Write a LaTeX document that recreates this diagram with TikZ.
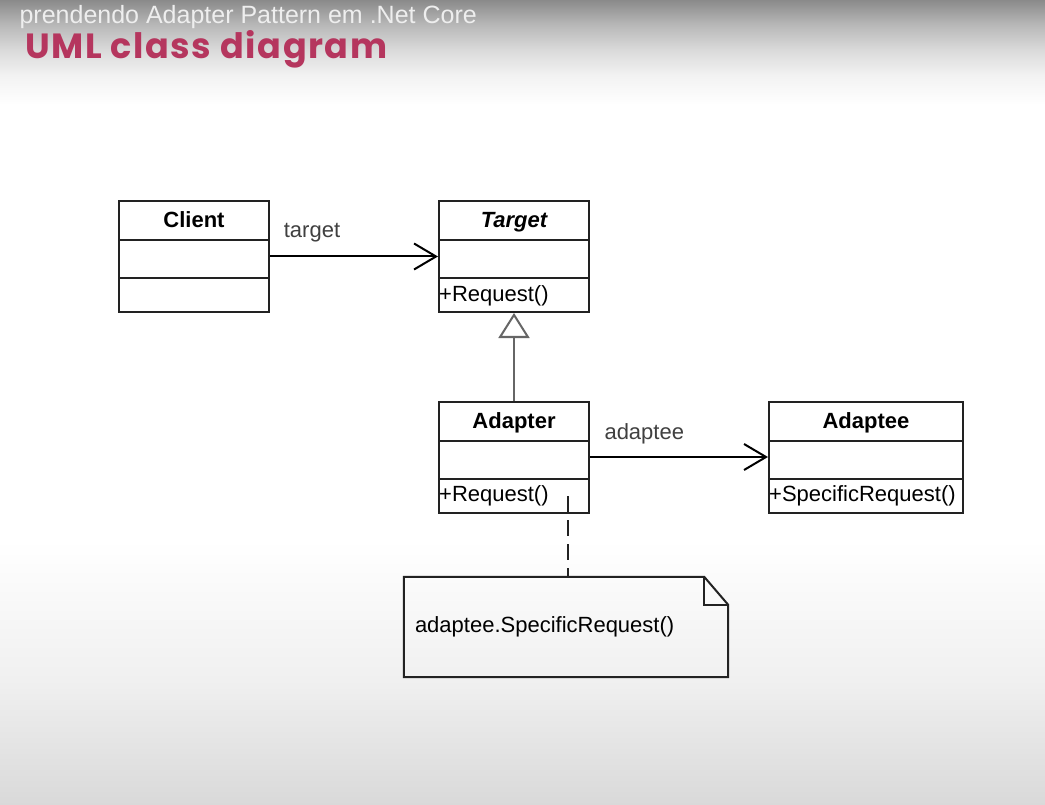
\documentclass[tikz,border=0pt]{standalone}
\usepackage{fontspec}
\setmainfont{Liberation Sans}
\newfontfamily\titlefont{Poppins}[LetterSpace=4.5]
\usetikzlibrary{arrows.meta}

\definecolor{titlered}{RGB}{181,54,94}
\definecolor{headgray}{RGB}{238,238,238}
\definecolor{bgtop}{RGB}{138,138,138}
\definecolor{bga}{RGB}{184,184,184}
\definecolor{bgb}{RGB}{218,218,218}
\definecolor{bgc}{RGB}{242,242,242}
\definecolor{bglow}{RGB}{240,240,240}
\definecolor{bgbot}{RGB}{217,217,217}
\definecolor{boxline}{RGB}{34,34,34}

\pgfdeclareverticalshading{slidebg}{100bp}{color(0bp)=(bgbot); color(25bp)=(bgbot);
  color(32.76bp)=(bglow); color(41.46bp)=(white); color(68.48bp)=(white);
  color(70.34bp)=(bgc); color(71.89bp)=(bgb); color(73.45bp)=(bga);
  color(75bp)=(bgtop); color(100bp)=(bgtop)}

\begin{document}
\begin{tikzpicture}
[
	x=1pt, y=-1pt,
	classbox/.style={draw=boxline,line width=2pt,inner sep=0pt,minimum width=150pt,minimum height=111pt},
	classname/.style={font=\fontsize{22}{26}\selectfont\bfseries,inner sep=0pt,anchor=base},
	member/.style={font=\fontsize{22}{26}\selectfont,anchor=west,inner sep=1pt},
	assoc/.style={line width=2pt,-{Straight Barb[length=22pt,width=26pt,line width=2pt]}},
	general/.style={line width=2.6pt,black!60,-{Triangle[open,length=25pt,width=31pt,line width=2pt,fill=white]}},
	lbl/.style={font=\fontsize{22}{26}\selectfont,text=black!75,anchor=base,inner sep=0pt}
]

	% slide background
	\useasboundingbox (0,0) rectangle (1045,805);
	\clip (0,0) rectangle (1045,805);
	\shade[shading=slidebg] (0,0) rectangle (1045,805);

	% headings
	\node[anchor=base east,inner sep=0pt,text=headgray,font=\fontsize{25}{30}\selectfont] (head) at (477,24)
	  {prendendo Adapter Pattern em .Net Core};
	\node[anchor=base west,inner sep=0pt,text=titlered,font=\fontsize{35}{40}\selectfont\titlefont\bfseries] (title) at (25,59)
	  {UML class diagram};

	% classes
	\node[classbox] (client) at (194,256.5) {};
	\node[classbox] (target) at (514,256.5) {};
	\node[classbox] (adapter) at (514,457) {};
	\node[classbox,minimum width=194pt] (adaptee) at (866,457) {};

	\foreach \c in {client,target,adapter,adaptee} {
		\draw[boxline,line width=2pt] ([yshift=-40pt]\c.north west) -- ([yshift=-40pt]\c.north east);
		\draw[boxline,line width=2pt] ([yshift=35pt]\c.south west) -- ([yshift=35pt]\c.south east);
	}

	\node[classname] at ([yshift=-27.5pt]client.north) {Client};
	\node[classname,font=\fontsize{22}{26}\selectfont\bfseries\itshape] at ([yshift=-27.5pt]target.north) {Target};
	\node[classname] at ([yshift=-27.5pt]adapter.north) {Adapter};
	\node[classname] at ([yshift=-27.5pt]adaptee.north) {Adaptee};

	\node[member] at ([yshift=17.5pt]target.south west) {+Request()};
	\node[member] at ([yshift=17.5pt]adapter.south west) {+Request()};
	\node[member] at ([yshift=17.5pt]adaptee.south west) {+SpecificRequest()};

	% relations
	\draw[assoc] (client) -- (target) node[lbl,pos=0.25,yshift=19pt] {target};
	\draw[assoc] (adapter) -- (adaptee) node[lbl,pos=0.305,yshift=18pt] {adaptee};
	\draw[general] (adapter) -- (target);

	% note
	\node[minimum width=324pt,minimum height=100pt,inner sep=0pt] (note) at (566,627) {};
	\draw[boxline,line width=2pt]
	  (note.north west)
	  -- ([xshift=-24pt]note.north east)
	  -- ([yshift=-28pt]note.north east)
	  -- (note.south east)
	  -- (note.south west)
	  -- cycle
	;
	\draw[boxline,line width=2pt] ([xshift=-24pt]note.north east) |- ([yshift=-28pt]note.north east);
	\node[member,inner sep=0pt] at ([xshift=11pt]note.west) {adaptee.SpecificRequest()};

	\coordinate (hook) at (568,496);
	\draw[boxline,line width=2pt,dash pattern=on 16pt off 8pt] (hook) -- (hook |- note.north);

\end{tikzpicture}
\end{document}
